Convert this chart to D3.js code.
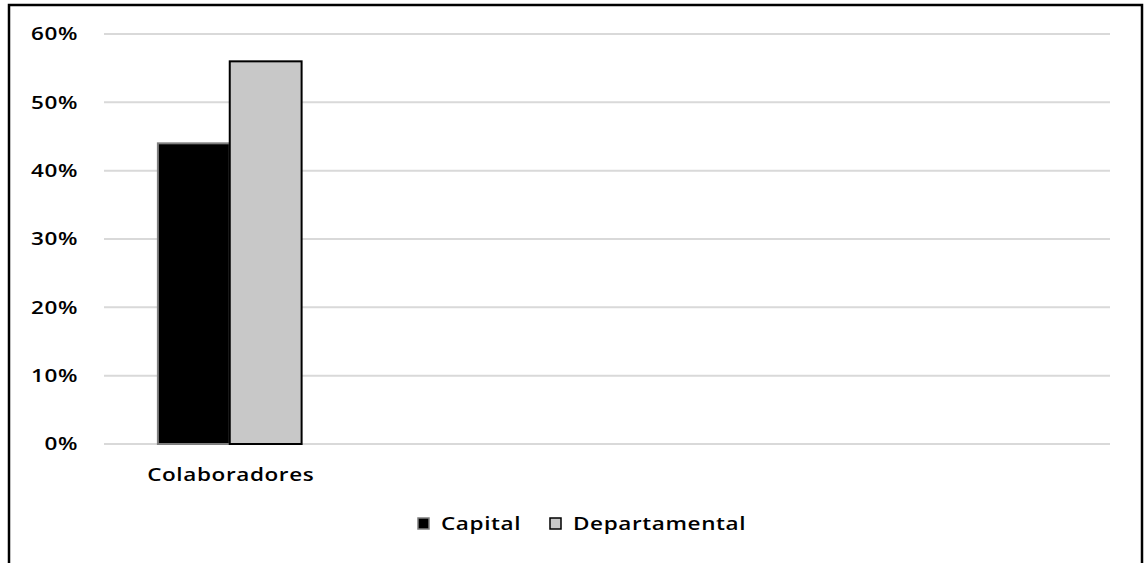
<!DOCTYPE html>
<html><head><meta charset="utf-8">
<script src="https://cdn.jsdelivr.net/npm/d3@7"></script>
<style>body{margin:0;background:#fff}svg{display:block}text{font-family:"Open Sans","Noto Sans",sans-serif;font-weight:600;letter-spacing:0.5px}</style>
</head><body>
<svg id="c" width="1145" height="563"></svg>
<script>
const categories = ["Colaboradores"];
const categorySlots = 4; // plot area reserves room for 4 category groups
const seriesNames = ["Capital", "Departamental"];
const capital = [0.44];
const departamental = [0.56];
const yTicks = [0, 0.1, 0.2, 0.3, 0.4, 0.5, 0.6];
const fills = ["#000000", "#c8c8c8"];
const strokes = ["#7f7f7f", "#000000"];

const svg = d3.select("#c");
const W = 1145, H = 563;
const sx = 1.25; // glyph horizontal stretch seen in the reference
svg.append("path").attr("d", `M9,${H} L9,5 L1142,5 L1142,${H}`)
  .attr("fill","none").attr("stroke","#000").attr("stroke-width",2.5);

const x0 = 104, x1 = 1110, yTop = 34, yBot = 444;
const y = d3.scaleLinear().domain([0, 0.6]).range([yBot, yTop]);
const slot = d3.scaleBand().domain(d3.range(categorySlots)).range([x0, x1]).paddingInner(0).paddingOuter(0);
const inner = d3.scaleBand().domain(seriesNames).range([0, slot.bandwidth()]).paddingOuter(0.75).paddingInner(0);

svg.append("g").selectAll("line").data(yTicks).join("line")
  .attr("x1", x0).attr("x2", x1).attr("y1", d=>y(d)).attr("y2", d=>y(d))
  .attr("stroke", "#d9d9d9").attr("stroke-width", 2);

const fmt = d3.format(".0%");
svg.append("g").selectAll("text").data(yTicks).join("text")
  .attr("transform", d=>`translate(78,${y(d)}) scale(${sx},1)`).attr("dy","0.36em").attr("text-anchor","end")
  .attr("font-size", 18).attr("fill","#000").text(d=>fmt(d));

const seriesVals = [capital, departamental];
categories.forEach((c, i) => {
  const g = svg.append("g").attr("transform", `translate(${slot(i)},0)`);
  seriesNames.forEach((s, j) => {
    const v = seriesVals[j][i];
    g.append("rect").attr("x", inner(s)).attr("width", inner.bandwidth())
      .attr("y", y(v)).attr("height", y(0) - y(v))
      .attr("fill", fills[j]).attr("stroke", strokes[j]).attr("stroke-width", 2);
  });
  svg.append("text").attr("transform", `translate(${slot(i) + slot.bandwidth()/2 + 1},481) scale(${sx},1)`)
    .attr("text-anchor","middle").attr("font-size", 18).attr("fill","#000").text(c);
});

const legend = [{name: seriesNames[0], x: 418, tx: 441}, {name: seriesNames[1], x: 550, tx: 573}];
legend.forEach((l, j) => {
  svg.append("rect").attr("x", l.x).attr("y", 518).attr("width", 11).attr("height", 11)
    .attr("fill", fills[j]).attr("stroke", j===0 ? "#7f7f7f" : "#000").attr("stroke-width", 1.5);
  svg.append("text").attr("transform", `translate(${l.tx},524) scale(${sx},1)`).attr("dy","0.36em")
    .attr("font-size", 18).attr("fill","#000").text(l.name);
});
</script>
</body></html>
